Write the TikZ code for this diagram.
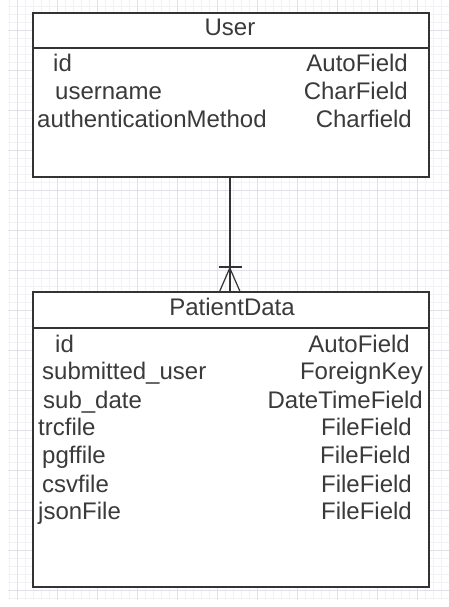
\documentclass[tikz,border=0pt]{standalone}
\usepackage{fontspec}
\setmainfont{Liberation Sans}
\usetikzlibrary{calc}
\definecolor{ink}{HTML}{333333}
\definecolor{txt}{HTML}{3A3A3A}
\definecolor{gridmaj}{HTML}{E0E0E8}
\definecolor{gridmin}{HTML}{F2F2F6}
\begin{document}
\begin{tikzpicture}[x=1pt,y=-1pt,
  box/.style={draw=ink, line width=1.6pt, fill=white, rectangle, inner sep=0pt, anchor=north west, minimum width=396pt},
  field/.style={anchor=base west, inner sep=0pt, text=txt, font=\fontsize{24}{28}\selectfont},
  ftype/.style={anchor=base east, inner sep=0pt, text=txt, font=\fontsize{24}{28}\selectfont},
  title/.style={anchor=base, inner sep=0pt, text=txt, font=\fontsize{24}{28}\selectfont},
  link/.style={draw=ink, line width=1.6pt}]
\useasboundingbox (0,0) rectangle (449,607);
\fill[white] (0,0) rectangle (449,607);
% grid
\begin{scope}
\clip (8,0) rectangle (449,600);
\foreach \i in {0,...,56} {
  \draw[gridmin, line width=0.6pt] ({1+8*\i},0) -- ({1+8*\i},600);
}
\foreach \i in {0,...,75} {
  \draw[gridmin, line width=0.6pt] (0,{6+8*\i}) -- (449,{6+8*\i});
}
\foreach \i in {0,...,10} {
  \draw[gridmaj, line width=0.9pt] ({17+40*\i},0) -- ({17+40*\i},600);
}
\foreach \i in {0,...,14} {
  \draw[gridmaj, line width=0.9pt] (0,{30+40*\i}) -- (449,{30+40*\i});
}
\end{scope}
% User entity
\node[box, minimum height=35pt] (userhead) at (32,12) {};
\node[box, minimum height=129pt] (userbody) at (32,47) {};
\node[title] (usertitle) at (230,36) {User};
\node[field] (u1) at (53,72) {id};
\node[field] (u2) at (55,100) {username};
\node[field] (u3) at (37,128) {authenticationMethod};
\node[ftype] (t1) at (408,72) {AutoField};
\node[ftype] (t2) at (408,100) {CharField};
\node[ftype] (t3) at (412,128) {Charfield};
% PatientData entity
\node[box, minimum height=36pt] (pdhead) at (32,291) {};
\node[box, minimum height=259pt] (pdbody) at (32,327) {};
\node[title] (pdtitle) at (232,315) {PatientData};
\node[field] (p1) at (55,352) {id};
\node[field] (p2) at (42,379) {submitted\_user};
\node[field] (p3) at (43,408) {sub\_date};
\node[field] (p4) at (38,435) {trcfile};
\node[field] (p5) at (42,463) {pgffile};
\node[field] (p6) at (42,492) {csvfile};
\node[field] (p7) at (38,519) {jsonFile};
\node[ftype] (q1) at (410,352) {AutoField};
\node[ftype] (q2) at (423,379) {ForeignKey};
\node[ftype] (q3) at (423,408) {DateTimeField};
\node[ftype] (q4) at (412,435) {FileField};
\node[ftype] (q5) at (411,463) {FileField};
\node[ftype] (q6) at (412,492) {FileField};
\node[ftype] (q7) at (412,519) {FileField};
% relationship (one to many)
\coordinate (end) at ($(pdhead.north)+(-1,0)$);
\draw[link] ($(userbody.south)+(-1,0)$) -- (end);
\draw[link] ($(end)+(-11,-24)$) -- ($(end)+(12,-24)$);
\draw[link, line width=1.2pt] ($(end)+(0,-23)$) -- ($(end)+(-10,0)$);
\draw[link, line width=1.2pt] ($(end)+(0,-23)$) -- ($(end)+(10,0)$);
\end{tikzpicture}
\end{document}
